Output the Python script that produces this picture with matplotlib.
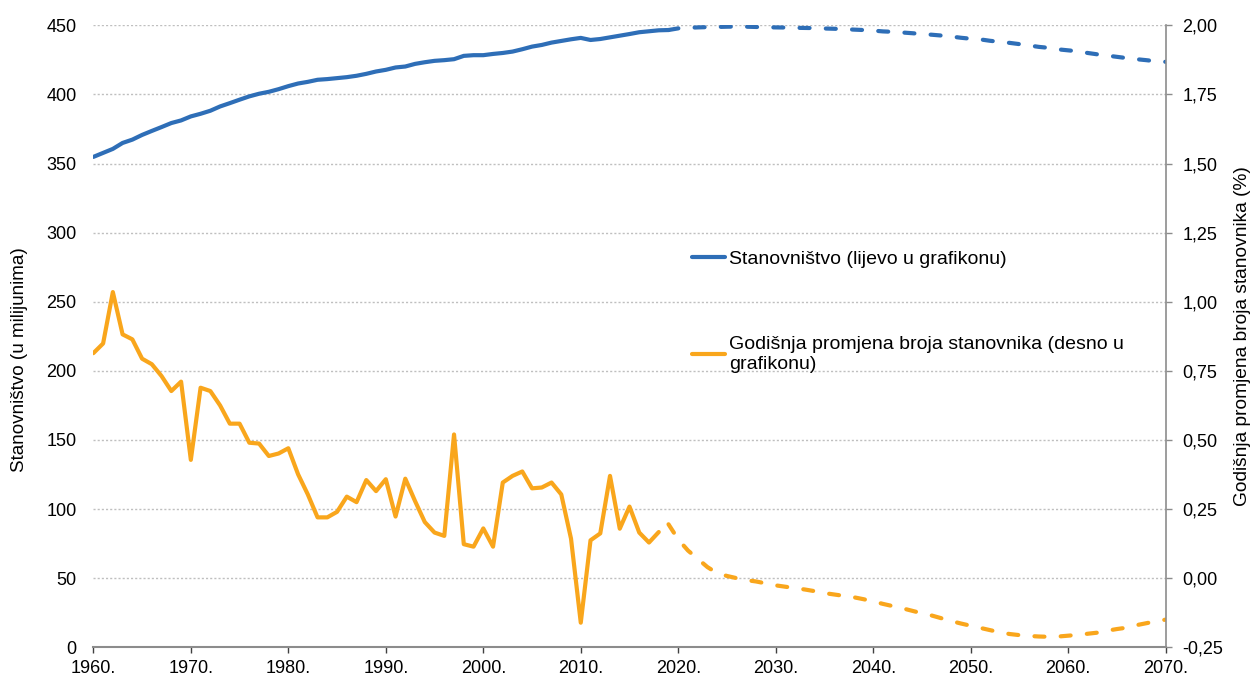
import numpy as np
import matplotlib.pyplot as plt
from matplotlib.ticker import FuncFormatter

plt.rcParams['font.family'] = ['Liberation Sans', 'DejaVu Sans']

# stanovnistvo (u milijunima), 1960.-2019.
god_stan = np.arange(1960, 2020)
stan = [354.8, 357.7, 360.6, 364.9, 367.3, 370.7, 373.6, 376.4, 379.3, 381.2,
        384.1, 386.0, 388.2, 391.3, 393.7, 396.2, 398.6, 400.5, 401.9, 403.8,
        406.0, 407.9, 409.1, 410.6, 411.1, 411.8, 412.5, 413.5, 414.9, 416.6,
        417.8, 419.5, 420.2, 422.1, 423.3, 424.3, 424.8, 425.5, 427.9, 428.4,
        428.4, 429.3, 430.0, 431.0, 432.7, 434.6, 435.8, 437.5, 438.7, 439.9,
        440.9, 439.4, 440.1, 441.3, 442.5, 443.7, 445.0, 445.7, 446.4, 446.6]

# projekcija stanovnistva, 2019.-2070.
god_proj = np.arange(2019, 2071)
stan_proj = [446.6, 447.8, 448.2, 448.5, 448.7, 448.8, 449.0, 449.1, 449.0, 448.8,
             448.6, 448.5, 448.4, 448.2, 448.1, 448.0, 447.7, 447.5, 447.3, 446.9,
             446.6, 446.2, 445.6, 445.3, 444.8, 444.3, 443.7, 443.2, 442.6, 441.9,
             441.0, 440.3, 439.8, 438.8, 438.0, 437.3, 436.4, 435.4, 434.4, 433.7,
             432.6, 431.9, 431.2, 430.0, 429.0, 428.1, 427.2, 426.3, 425.5, 424.8,
             424.0, 423.6]

# godisnja promjena (%), 1960.-2018.
god_prom = np.arange(1960, 2019)
prom = [0.814, 0.849, 1.035, 0.882, 0.864, 0.794, 0.774, 0.731, 0.677, 0.711,
        0.428, 0.689, 0.677, 0.625, 0.559, 0.559, 0.490, 0.487, 0.442, 0.451,
        0.470, 0.376, 0.303, 0.220, 0.220, 0.240, 0.295, 0.275, 0.355, 0.315,
        0.358, 0.223, 0.360, 0.279, 0.203, 0.165, 0.153, 0.520, 0.123, 0.114,
        0.180, 0.114, 0.346, 0.370, 0.386, 0.325, 0.328, 0.346, 0.303, 0.143,
        -0.161, 0.137, 0.162, 0.370, 0.179, 0.259, 0.165, 0.129, 0.167]

# projekcija promjene (%), 2019.-2070.
prom_proj = [0.195, 0.140, 0.100, 0.070, 0.040, 0.018, 0.008, 0.000, -0.007, -0.012,
             -0.019, -0.026, -0.031, -0.036, -0.041, -0.047, -0.054, -0.059, -0.064, -0.069,
             -0.076, -0.084, -0.093, -0.101, -0.109, -0.118, -0.127, -0.135, -0.145, -0.155,
             -0.164, -0.172, -0.180, -0.188, -0.196, -0.202, -0.206, -0.209, -0.211, -0.212,
             -0.211, -0.208, -0.205, -0.201, -0.197, -0.190, -0.184, -0.179, -0.170, -0.163,
             -0.156, -0.150]

plava = '#2E6EB7'
narancasta = '#F9A61C'
siva = '#8C8C8C'

fig = plt.figure(figsize=(12.53, 6.79), dpi=100)
ax1 = fig.add_axes([0.0745, 0.0467, 0.8558, 0.916])
ax2 = ax1.twinx()

l1, = ax1.plot(god_stan, stan, color=plava, lw=3, solid_capstyle='round')
ax1.plot(god_proj, stan_proj, color=plava, lw=3, dashes=(2.4, 3.9), dash_capstyle='round')

l2, = ax2.plot(god_prom, prom, color=narancasta, lw=3, solid_capstyle='round')
ax2.plot(god_proj, prom_proj, color=narancasta, lw=3, dashes=(2.4, 3.9), dash_capstyle='round')

ax1.set_xlim(1960, 2070)
ax1.set_ylim(0, 450)
ax2.set_ylim(-0.25, 2.0)

ax1.set_xticks(np.arange(1960, 2071, 10))
ax1.set_xticklabels([str(g) + '.' for g in range(1960, 2071, 10)])
ax1.set_yticks(np.arange(0, 451, 50))
ax2.set_yticks(np.arange(-0.25, 2.01, 0.25))
ax2.yaxis.set_major_formatter(FuncFormatter(lambda v, p: ('%.2f' % v).replace('.', ',')))

ax1.grid(axis='y', color='#BFBFBF', linestyle=(0, (1.5, 1.5)), lw=1)
ax1.set_axisbelow(True)

for a in (ax1, ax2):
    a.spines['top'].set_visible(False)
    a.spines['left'].set_visible(False)
ax2.spines['bottom'].set_visible(False)
ax1.spines['right'].set_visible(False)
ax1.spines['bottom'].set_color(siva)
ax1.spines['bottom'].set_linewidth(1.5)
ax2.spines['right'].set_color(siva)
ax2.spines['right'].set_linewidth(1.2)

ax1.tick_params(axis='x', direction='out', length=4.5, width=1, color='#404040',
                labelsize=13, pad=4.5)
ax1.tick_params(axis='y', length=0, labelsize=13, pad=12)
ax2.tick_params(axis='y', direction='out', length=4, width=1, color=siva,
                labelsize=13, pad=8)

ax1.set_ylabel('Stanovništvo (u milijunima)', fontsize=13.6, labelpad=12)
ax1.yaxis.set_label_coords(-0.0605, 0.462)
ax2.set_ylabel('Godišnja promjena broja stanovnika (%)', fontsize=13.8, labelpad=8)

ax2.legend([l1, l2],
           ['Stanovništvo (lijevo u grafikonu)',
            'Godišnja promjena broja stanovnika (desno u\ngrafikonu)'],
           loc='upper left', bbox_to_anchor=(0.558, 0.638), frameon=False,
           fontsize=14, handlelength=1.7, handletextpad=0.2, labelspacing=3.5,
           borderpad=0, borderaxespad=0)

plt.savefig('out.png', dpi=100)
